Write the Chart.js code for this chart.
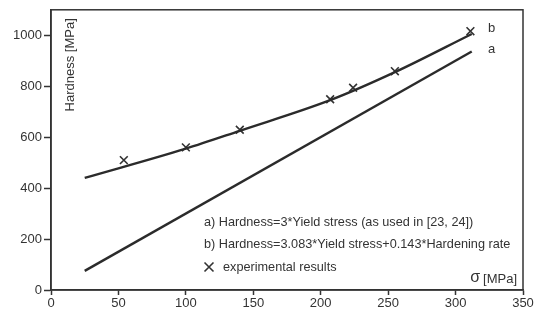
<!DOCTYPE html>
<html>
<head>
<meta charset="utf-8">
<script src="https://cdn.jsdelivr.net/npm/chart.js@4/dist/chart.umd.min.js"></script>
<style>
  html, body { margin: 0; padding: 0; background: #fff; }
  #wrap { position: relative; width: 544px; height: 309px; }
</style>
</head>
<body>
<div id="wrap"><canvas id="c" width="544" height="309"></canvas></div>
<script>
// ---- data ----
const lineASigma = [25, 312];
const lineAHardness = [75, 936];
const lineBSigma = [25, 100, 140, 207, 255, 312];
const lineBHardness = [440, 555, 625, 745, 855, 1005];
const expSigma = [54, 100, 140, 207, 224, 255, 311];
const expHardness = [510, 560, 629, 749, 794, 859, 1016];
const xTicks = [0, 50, 100, 150, 200, 250, 300, 350];
const yTicks = [0, 200, 400, 600, 800, 1000];
const legendTexts = [
  'a) Hardness=3*Yield stress (as used in [23, 24])',
  'b) Hardness=3.083*Yield stress+0.143*Hardening rate',
  'experimental results'
];

const FONT = '"Liberation Sans", Arial, sans-serif';
const INK = '#2b2b2b';

const toPts = (xs, ys) => xs.map((x, i) => ({ x: x, y: ys[i] }));

const decor = {
  id: 'decor',
  afterDraw(chart) {
    const { ctx, chartArea: a, scales } = chart;
    ctx.save();
    // frame
    ctx.strokeStyle = '#333';
    ctx.lineWidth = 1.5;
    ctx.strokeRect(a.left, a.top, a.right - a.left, a.bottom - a.top);
    ctx.fillStyle = '#333';
    // line labels
    ctx.font = '13px ' + FONT;
    ctx.textAlign = 'left';
    ctx.textBaseline = 'middle';
    const xs = scales.x;
    const ys = scales.y;
    ctx.fillText('b', xs.getPixelForValue(324), ys.getPixelForValue(1028));
    ctx.fillText('a', xs.getPixelForValue(324), ys.getPixelForValue(945));
    // legend block
    ctx.font = '12.7px ' + FONT;
    const lx = 204, rows = [222, 244, 267];
    ctx.fillText(legendTexts[0], lx, rows[0]);
    ctx.fillText(legendTexts[1], lx, rows[1]);
    ctx.fillText(legendTexts[2], lx + 19, rows[2]);
    // legend marker
    ctx.strokeStyle = '#333';
    ctx.lineWidth = 1.6;
    const cx = lx + 5, cy = rows[2], r = 4.5;
    ctx.beginPath();
    ctx.moveTo(cx - r, cy - r); ctx.lineTo(cx + r, cy + r);
    ctx.moveTo(cx + r, cy - r); ctx.lineTo(cx - r, cy + r);
    ctx.stroke();
    // axis titles inside plot
    ctx.font = '13px ' + FONT;
    ctx.textAlign = 'right';
    ctx.fillText('[MPa]', a.right - 6, a.bottom - 11);
    const w = ctx.measureText('[MPa]').width;
    ctx.font = '16px ' + FONT;
    ctx.fillText('σ', a.right - 6 - w - 3, a.bottom - 12);
    ctx.translate(a.left + 19, a.top + 55);
    ctx.rotate(-Math.PI / 2);
    ctx.textAlign = 'center';
    ctx.font = '13px ' + FONT;
    ctx.fillText('Hardness [MPa]', 0, 0);
    ctx.restore();
  }
};

new Chart(document.getElementById('c'), {
  type: 'scatter',
  data: {
    datasets: [
      {
        label: 'a',
        data: toPts(lineASigma, lineAHardness),
        showLine: true, borderColor: INK, borderWidth: 2.4,
        pointRadius: 0, fill: false
      },
      {
        label: 'b',
        data: toPts(lineBSigma, lineBHardness),
        showLine: true, borderColor: INK, borderWidth: 2.4,
        pointRadius: 0, fill: false, cubicInterpolationMode: 'monotone'
      },
      {
        label: 'experimental results',
        data: toPts(expSigma, expHardness),
        showLine: false, pointStyle: 'crossRot', pointRadius: 5.5,
        pointBorderColor: '#333', pointBorderWidth: 1.6, pointBackgroundColor: '#333'
      }
    ]
  },
  options: {
    responsive: false,
    animation: false,
    events: [],
    layout: { padding: { top: 8, right: 21, left: 0, bottom: 0 } },
    plugins: { legend: { display: false }, tooltip: { enabled: false } },
    scales: {
      x: {
        type: 'linear', min: 0, max: 350,
        afterBuildTicks: s => { s.ticks = xTicks.map(v => ({ value: v })); },
        afterFit: s => { s.height = 19; },
        grid: { drawOnChartArea: false, drawTicks: true, tickLength: 5, color: '#333', tickWidth: 1.5 },
        border: { display: true, color: '#333', width: 1.5 },
        ticks: { color: '#333', font: { family: FONT, size: 13 }, padding: 1, maxRotation: 0,
                 callback: v => String(v) }
      },
      y: {
        type: 'linear', min: 0, max: 1100,
        afterBuildTicks: s => { s.ticks = yTicks.map(v => ({ value: v })); },
        afterFit: s => { s.width = 51; },
        grid: { drawOnChartArea: false, drawTicks: true, tickLength: 7, color: '#333', tickWidth: 1.5 },
        border: { display: true, color: '#333', width: 1.5 },
        ticks: { color: '#333', font: { family: FONT, size: 13 }, padding: 2,
                 callback: v => String(v) }
      }
    }
  },
  plugins: [decor]
});
</script>
</body>
</html>
